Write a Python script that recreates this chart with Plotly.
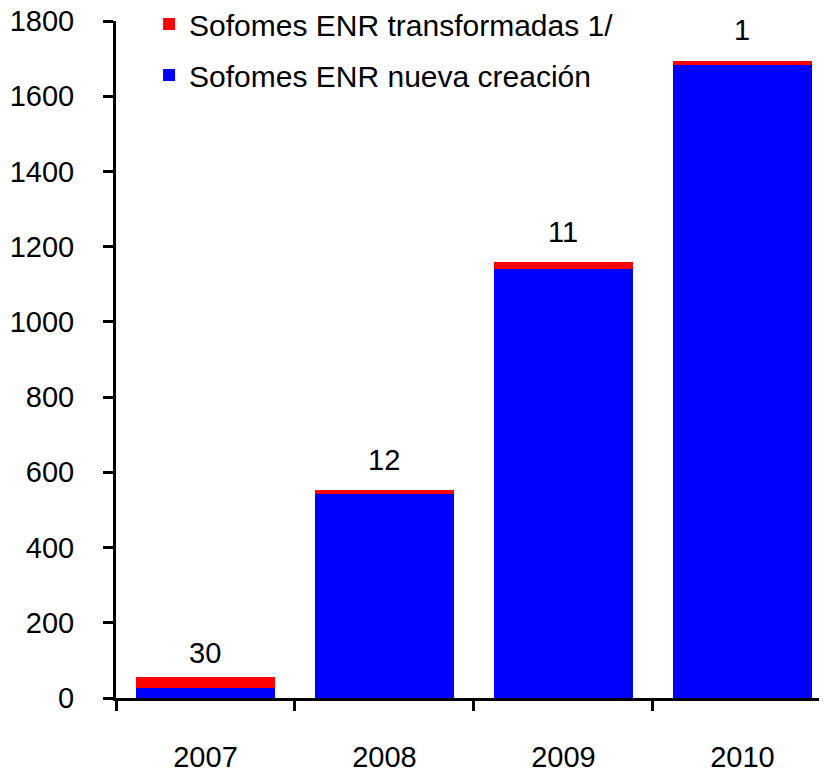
import plotly.graph_objects as go

years = ["2007", "2008", "2009", "2010"]
nueva = [26, 543, 1140, 1683]
transformadas = [29, 10, 19, 10]
etiquetas = ["30", "12", "11", "1"]

FONT = "Arial, Liberation Sans, sans-serif"
label_shift = [6, 12, 12, 13]

fig = go.Figure()
fig.add_trace(go.Bar(x=years, y=nueva, name="Sofomes ENR nueva creación",
                     marker=dict(color="#0000FF", line=dict(width=0)),
                     width=0.78, legendgroup="b", legendrank=2))
fig.add_trace(go.Bar(x=years, y=transformadas, name="Sofomes ENR transformadas 1/",
                     marker=dict(color="#FF0000", line=dict(width=0)),
                     width=0.78, legendgroup="r", legendrank=1))

totals = [a + b for a, b in zip(nueva, transformadas)]
for i, (t, lab) in enumerate(zip(totals, etiquetas)):
    fig.add_annotation(xref="x", yref="y", x=i, y=t, text=lab, showarrow=False,
                       yanchor="bottom", yshift=label_shift[i],
                       font=dict(size=29, color="black", family=FONT))

fig.update_layout(
    width=827, height=772,
    barmode="stack",
    plot_bgcolor="white", paper_bgcolor="white",
    margin=dict(l=108, r=0, t=13, b=82, autoexpand=False),
    font=dict(family=FONT, size=29, color="black"),
    showlegend=True,
    legend=dict(x=0.046, y=1.034, xanchor="left", yanchor="top",
                traceorder="grouped", tracegroupgap=9,
                font=dict(size=30), bgcolor="rgba(0,0,0,0)"),
    xaxis=dict(type="category", range=[-0.5, 3.517], showline=True, linecolor="black",
               linewidth=3, ticks="outside", ticklen=10, tickwidth=3, tickcolor="black",
               tickson="boundaries", showgrid=False, zeroline=False, automargin=False,
               ticklabelstandoff=31, ticklabeloverflow="allow", tickfont=dict(size=29)),
    yaxis=dict(range=[0, 1800], dtick=200, showline=True, linecolor="black",
               linewidth=3, ticks="outside", ticklen=10, tickwidth=3, tickcolor="black",
               showgrid=False, zeroline=False, automargin=False,
               ticklabelstandoff=23, ticklabeloverflow="allow", tickfont=dict(size=29)),
)

fig.write_html("out.html")
